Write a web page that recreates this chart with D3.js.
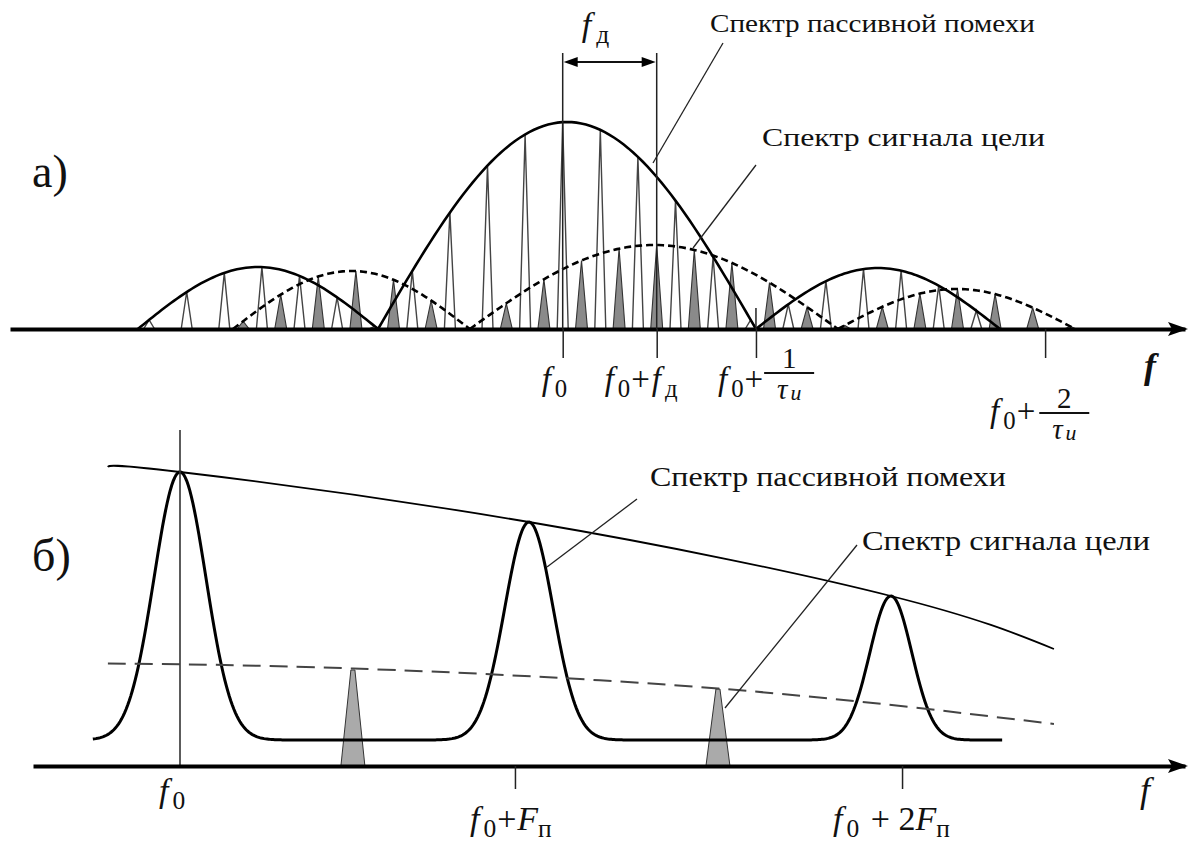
<!DOCTYPE html>
<html><head><meta charset="utf-8">
<script src="https://cdn.jsdelivr.net/npm/d3@7"></script>
<style>
body{margin:0;background:#fff}
svg{display:block}
</style>
</head><body>
<svg id="c" width="1189" height="845"></svg>
<script>
// ================= DATA =================
// Panel a: frequency in units of the repetition frequency F, relative to f0
// envelope lobes: [from, to, peak amplitude]
const clutterLobes = [[-11.3, -4.91, 62], [-4.91, 5.14, 207], [5.14, 11.63, 61]];
const targetLobes  = [[-8.77, -2.47, 58], [-2.47, 7.32, 84], [7.32, 13.63, 40]];
// spectral line positions
const clutterLines = [-11,-10,-9,-8,-7,-6,-5,-4,-3,-2,-1,0,1,2,3,4,5,6,7,8,9,10,11];
const targetLines  = [-8.5,-7.5,-6.5,-5.5,-4.5,-3.5,-2.5,-1.5,-0.5,0.5,1.5,2.5,3.5,4.5,5.5,6.5,7.5,8.5,9.5,10.5,11.5,12.5,13.5];
const dopplerShift = 2.5;
const tickValuesA  = [0, 2.5, 5.14, 12.83];
const labelsA = ["Спектр пассивной помехи", "Спектр сигнала цели"];

// Panel b: frequency in units of F_п relative to f0
const peakFreqB   = [0, 0.997, 2.031];
const peakAmpB    = [268, 218, 144];   // above the floor
const peakWidthB  = [0.074, 0.069, 0.060];
const floorB      = 26;
const rangeB      = [-0.249, 2.349];
const envFreqB    = [-0.206, 0, 0.997, 2.031, 2.497];
const envAmpB     = [299, 294, 244, 170, 117];
const tgtEnvFreqB = [-0.206, 0.494, 1.537, 2.497];
const tgtEnvAmpB  = [102.5, 97.5, 77.5, 42];
const targetFreqB = [0.494, 1.537];
const targetAmpB  = [96, 77];
const tickValuesB = [0.957, 2.063];
const labelsB = ["Спектр пассивной помехи", "Спектр сигнала цели"];

// ================= DRAW =================
const FONT = "'Liberation Serif'";
const svg = d3.select('#c');

function txt(g, x, y, size) {
  return g.append('text').attr('x', x).attr('y', y).attr('font-size', size).style('font-family', FONT).attr('fill', '#111');
}
function rich(g, x, y, size, pieces) {
  const t = txt(g, x, y, size);
  let cur = 0;
  pieces.forEach(p => {
    const shift = p.sub ? size * 0.2 : 0;
    const ts = t.append('tspan').text(p.t).attr('dy', shift - cur);
    cur = shift;
    if (p.it) ts.attr('font-style', 'italic');
    if (p.bold) ts.attr('font-weight', 'bold');
    if (p.sub) ts.attr('font-size', size * 0.75);
    if (p.dx) ts.attr('dx', p.dx);
  });
  return t;
}
function frac(g, x0, yBar, w, size, num, den) {
  const cx = x0 + w / 2;
  g.append('line').attr('x1', x0).attr('x2', x0 + w).attr('y1', yBar).attr('y2', yBar)
    .attr('stroke', '#111').attr('stroke-width', 1.8);
  txt(g, cx, yBar - 5, size).attr('text-anchor', 'middle').text(num);
  const t = txt(g, cx, yBar + 26, size).attr('text-anchor', 'middle');
  t.append('tspan').attr('font-style', 'italic').text(den[0]);
  t.append('tspan').attr('font-style', 'italic').attr('font-size', size * 0.75).attr('dy', 1).attr('dx', 3).text(den[1]);
}
function rightOf(t) { const b = t.node().getBBox(); return b.x + b.width; }
function arrowHead(g, xTip, y) {
  g.append('path').attr('d', `M${xTip},${y} L${xTip-20},${y-7} L${xTip-16},${y} L${xTip-20},${y+7} Z`).attr('fill', '#000');
}

// ---------- Panel a ----------
const gA = svg.append('g');
const y0A = 329;
const xA = d3.scaleLinear().domain([(10-562.7)/37.6, (1185-562.7)/37.6]).range([10, 1185]);
const yA = d3.scaleLinear().domain([0, 210]).range([y0A, y0A - 210]);

function env(lobes, u) {
  for (const [a, b, h] of lobes) if (u >= a && u <= b) return h * Math.sin(Math.PI * (u - a) / (b - a));
  return 0;
}
function lobePts(l) {
  const [a, b, h] = l, n = 80, pts = [];
  for (let i = 0; i <= n; i++) { const u = a + (b - a) * i / n; pts.push([u, h * Math.sin(Math.PI * i / n)]); }
  return pts;
}
const lineA = d3.line().x(d => xA(d[0])).y(d => yA(d[1]));

// target lines (gray filled)
gA.append('g').selectAll('path').data(targetLines.filter(u => env(targetLobes, u) > 1)).join('path')
  .attr('d', u => { const x = xA(u), yt = yA(env(targetLobes, u)); return `M${x-6},${y0A} L${x},${yt} L${x+6},${y0A} Z`; })
  .attr('fill', '#8a8a8a').attr('stroke', '#333').attr('stroke-width', 1.1);
// clutter lines (outline)
gA.append('g').selectAll('path').data(clutterLines.filter(u => env(clutterLobes, u) > 1)).join('path')
  .attr('d', u => { const x = xA(u), yt = yA(env(clutterLobes, u)); return `M${x-5.5},${y0A} L${x},${yt} L${x+5.5},${y0A}`; })
  .attr('fill', 'none').attr('stroke', '#444').attr('stroke-width', 1.4);
// envelopes
gA.append('g').selectAll('path').data(clutterLobes).join('path').attr('d', l => lineA(lobePts(l)))
  .attr('fill', 'none').attr('stroke', '#000').attr('stroke-width', 2.6);
gA.append('g').selectAll('path').data(targetLobes).join('path').attr('d', l => lineA(lobePts(l)))
  .attr('fill', 'none').attr('stroke', '#000').attr('stroke-width', 2.6).attr('stroke-dasharray', '7,4');

// axis
const axA = gA.append('g').attr('transform', `translate(0,${y0A})`)
  .call(d3.axisBottom(xA).tickValues(tickValuesA).tickSize(29).tickSizeOuter(0).tickFormat(''));
axA.select('.domain').attr('stroke', '#000').attr('stroke-width', 4);
axA.selectAll('.tick line').attr('stroke', '#222').attr('stroke-width', 1.5);
arrowHead(gA, 1188, y0A);
// vertical guide lines at f0 and f0+fд, and 1/τ extension above axis
[0, dopplerShift].forEach(u => gA.append('line').attr('x1', xA(u)).attr('x2', xA(u)).attr('y1', 53).attr('y2', y0A)
  .attr('stroke', '#222').attr('stroke-width', 1.5));
gA.append('line').attr('x1', xA(tickValuesA[2])).attr('x2', xA(tickValuesA[2])).attr('y1', 308).attr('y2', y0A)
  .attr('stroke', '#222').attr('stroke-width', 1.5);
// fд dimension arrow
{
  const x1 = xA(0), x2 = xA(dopplerShift), y = 62;
  gA.append('line').attr('x1', x1 + 10).attr('x2', x2 - 10).attr('y1', y).attr('y2', y).attr('stroke', '#111').attr('stroke-width', 2);
  gA.append('path').attr('d', `M${x1+1},${y} L${x1+15},${y-5} L${x1+15},${y+5} Z`).attr('fill', '#000');
  gA.append('path').attr('d', `M${x2-1},${y} L${x2-15},${y-5} L${x2-15},${y+5} Z`).attr('fill', '#000');
  rich(gA, x1 + 19, 36, 34, [{t: 'f', it: 1}, {t: 'д', sub: 1, dx: 5}]);
}
// tick labels
rich(gA, xA(0) - 21, 390, 33, [{t: 'f', it: 1}, {t: '0', sub: 1, dx: 4}]);
rich(gA, xA(2.5) - 52, 390, 33, [{t: 'f', it: 1}, {t: '0', sub: 1, dx: 4}, {t: '+', dx: 1}, {t: 'f', it: 1, dx: 2}, {t: 'д', sub: 1, dx: 4}]);
{
  const t = rich(gA, xA(5.14) - 38, 390, 33, [{t: 'f', it: 1}, {t: '0', sub: 1, dx: 4}, {t: '+', dx: 1}]);
  frac(gA, rightOf(t) + 1, 373, 50, 29, '1', ['τ', 'и']);
}
{
  const t = rich(gA, xA(12.83) - 55, 422, 33, [{t: 'f', it: 1}, {t: '0', sub: 1, dx: 4}, {t: '+', dx: 1}]);
  frac(gA, rightOf(t) + 4, 413, 50, 29, '2', ['τ', 'и']);
}
txt(gA, 1144, 378, 36).attr('font-style', 'italic').attr('font-weight', 'bold').text('f');
// labels and leaders
txt(gA, 710, 32, 26).attr('textLength', 325).attr('lengthAdjust', 'spacingAndGlyphs').text(labelsA[0]);
txt(gA, 762, 146, 26).attr('textLength', 283).attr('lengthAdjust', 'spacingAndGlyphs').text(labelsA[1]);
gA.append('line').attr('x1', 723).attr('y1', 43).attr('x2', 653).attr('y2', 163).attr('stroke', '#222').attr('stroke-width', 1.3);
gA.append('line').attr('x1', 756).attr('y1', 165).attr('x2', 693).attr('y2', 248).attr('stroke', '#222').attr('stroke-width', 1.3);
txt(gA, 32, 187, 46).text('а)');

// ---------- Panel b ----------
const gB = svg.append('g');
const y0B = 766;
const xB = d3.scaleLinear().domain([(33-180)/350, (1185-180)/350]).range([33, 1185]);
const yB = d3.scaleLinear().domain([0, 300]).range([y0B, y0B - 300]);
const lineB = d3.line().x(d => xB(d[0])).y(d => yB(d[1]));
const curveB = d3.line().x(d => xB(d[0])).y(d => yB(d[1])).curve(d3.curveNatural);

// clutter spectrum curve
const clutterB = [];
for (let i = 0; i <= 600; i++) {
  const u = rangeB[0] + (rangeB[1] - rangeB[0]) * i / 600;
  let v = floorB;
  peakFreqB.forEach((c, k) => { v += peakAmpB[k] * Math.exp(-((u - c) ** 2) / (2 * peakWidthB[k] ** 2)); });
  clutterB.push([u, v]);
}
// targets
gB.append('g').selectAll('path').data(targetFreqB).join('path')
  .attr('d', (u, i) => { const x = xB(u), yt = yB(targetAmpB[i]); return `M${x-12},${y0B} L${x-2},${yt} L${x+2},${yt} L${x+12},${y0B} Z`; })
  .attr('fill', '#aaa').attr('stroke', '#333').attr('stroke-width', 1);
gB.append('path').attr('d', lineB(clutterB)).attr('fill', 'none').attr('stroke', '#000').attr('stroke-width', 3);
// envelopes
gB.append('path').attr('d', curveB(envFreqB.map((u, i) => [u, envAmpB[i]])))
  .attr('fill', 'none').attr('stroke', '#000').attr('stroke-width', 1.8);
gB.append('path').attr('d', curveB(tgtEnvFreqB.map((u, i) => [u, tgtEnvAmpB[i]])))
  .attr('fill', 'none').attr('stroke', '#444').attr('stroke-width', 2).attr('stroke-dasharray', '18,9');
// f0 vertical line
gB.append('line').attr('x1', xB(0)).attr('x2', xB(0)).attr('y1', 430).attr('y2', y0B).attr('stroke', '#333').attr('stroke-width', 1.6);
// axis
const axB = gB.append('g').attr('transform', `translate(0,${y0B})`)
  .call(d3.axisBottom(xB).tickValues(tickValuesB).tickSize(23).tickSizeOuter(0).tickFormat(''));
axB.select('.domain').attr('stroke', '#000').attr('stroke-width', 4);
axB.selectAll('.tick line').attr('stroke', '#222').attr('stroke-width', 1.5);
arrowHead(gB, 1188, y0B);
// tick labels
rich(gB, xB(0) - 21, 802, 34, [{t: 'f', it: 1}, {t: '0', sub: 1, dx: 4}]);
rich(gB, xB(tickValuesB[0]) - 45, 830, 34, [{t: 'f', it: 1}, {t: '0', sub: 1, dx: 4}, {t: '+', dx: 1}, {t: 'F', it: 1, dx: 1}, {t: 'п', sub: 1}]);
rich(gB, xB(tickValuesB[1]) - 69, 830, 34, [{t: 'f', it: 1}, {t: '0', sub: 1, dx: 4}, {t: ' + 2', dx: 3}, {t: 'F', it: 1}, {t: 'п', sub: 1}]);
txt(gB, 1140, 802, 36).attr('font-style', 'italic').text('f');
// labels and leaders
txt(gB, 650, 486, 27).attr('textLength', 356).attr('lengthAdjust', 'spacingAndGlyphs').text(labelsB[0]);
txt(gB, 862, 550, 27).attr('textLength', 288).attr('lengthAdjust', 'spacingAndGlyphs').text(labelsB[1]);
gB.append('line').attr('x1', 637).attr('y1', 499).attr('x2', 547).attr('y2', 567).attr('stroke', '#222').attr('stroke-width', 1.3);
gB.append('line').attr('x1', 857).attr('y1', 545).attr('x2', 725).attr('y2', 708).attr('stroke', '#222').attr('stroke-width', 1.3);
txt(gB, 32, 571, 46).text('б)');
</script>
</body></html>
